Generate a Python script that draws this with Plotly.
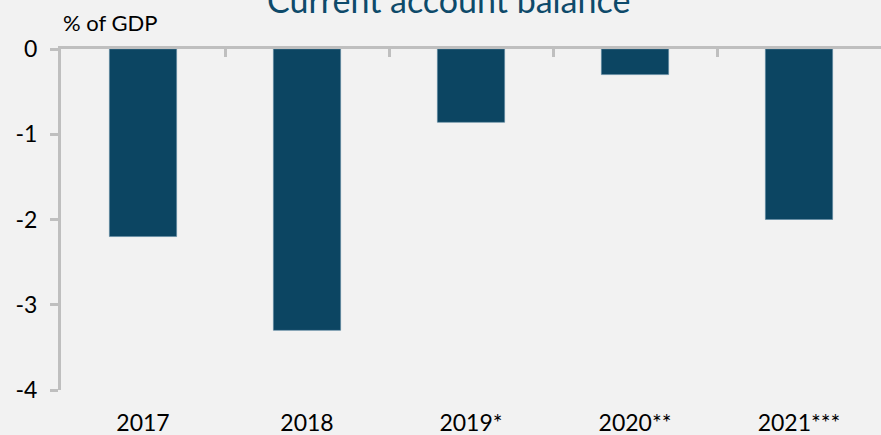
import plotly.graph_objects as go

# Current account balance, % of GDP
years = ["2017", "2018", "2019*", "2020**", "2021***"]
balance = [-2.2, -3.3, -0.86, -0.3, -2.0]

y_ticks = [0, -1, -2, -3, -4]
y_tick_text = ["0", "-1", "-2", "-3", "-4"]

BAR_COLOR = "#0c4562"
AXIS_COLOR = "#bfbfbf"
BG = "#f2f2f2"
FONT = "Lato"

fig = go.Figure()
fig.add_trace(go.Bar(
    x=years, y=balance,
    marker=dict(color=BAR_COLOR, line=dict(width=0.6, color="#5b87a0")),
    hoverinfo="skip",
))
# invisible companion trace so the top (zero-line) axis gets category boundaries
fig.add_trace(go.Scatter(
    x=years, y=balance, xaxis="x2", mode="markers",
    marker=dict(opacity=0), hoverinfo="skip", showlegend=False,
))

fig.update_layout(
    width=881, height=435,
    paper_bgcolor=BG, plot_bgcolor=BG,
    margin=dict(l=61, r=0, t=49, b=45),
    showlegend=False,
    bargap=0.59,
    font=dict(family=FONT, color="#000000", size=22),
    xaxis=dict(
        type="category", showline=False, ticks="", showgrid=False,
        zeroline=False, tickfont=dict(size=23), ticklabelstandoff=17,
        automargin=False,
    ),
    xaxis2=dict(
        type="category", overlaying="x", matches="x", side="top",
        showline=True, linecolor=AXIS_COLOR, linewidth=3,
        ticks="inside", tickson="boundaries", ticklen=8,
        tickcolor=AXIS_COLOR, tickwidth=3, automargin=False,
        showticklabels=False, showgrid=False, zeroline=False,
    ),
    yaxis=dict(
        range=[-4, 0], tickvals=y_ticks, ticktext=y_tick_text,
        showline=True, linecolor=AXIS_COLOR, linewidth=3,
        ticks="outside", ticklen=8, tickcolor=AXIS_COLOR, tickwidth=3,
        showgrid=False, zeroline=False, tickfont=dict(size=23),
        ticklabelstandoff=8, automargin=False,
    ),
    annotations=[
        dict(text="Current account balance", xref="paper", yref="paper",
             x=0.473, y=1, xanchor="center", yanchor="bottom", yshift=27,
             showarrow=False, font=dict(size=34, color="#0e4a6a", family=FONT)),
        dict(text="% of GDP", xref="paper", yref="paper",
             x=0, y=1, xanchor="left", yanchor="bottom", yshift=11,
             showarrow=False, font=dict(size=22, color="#000000", family=FONT)),
    ],
)

fig.write_html("out.html")
